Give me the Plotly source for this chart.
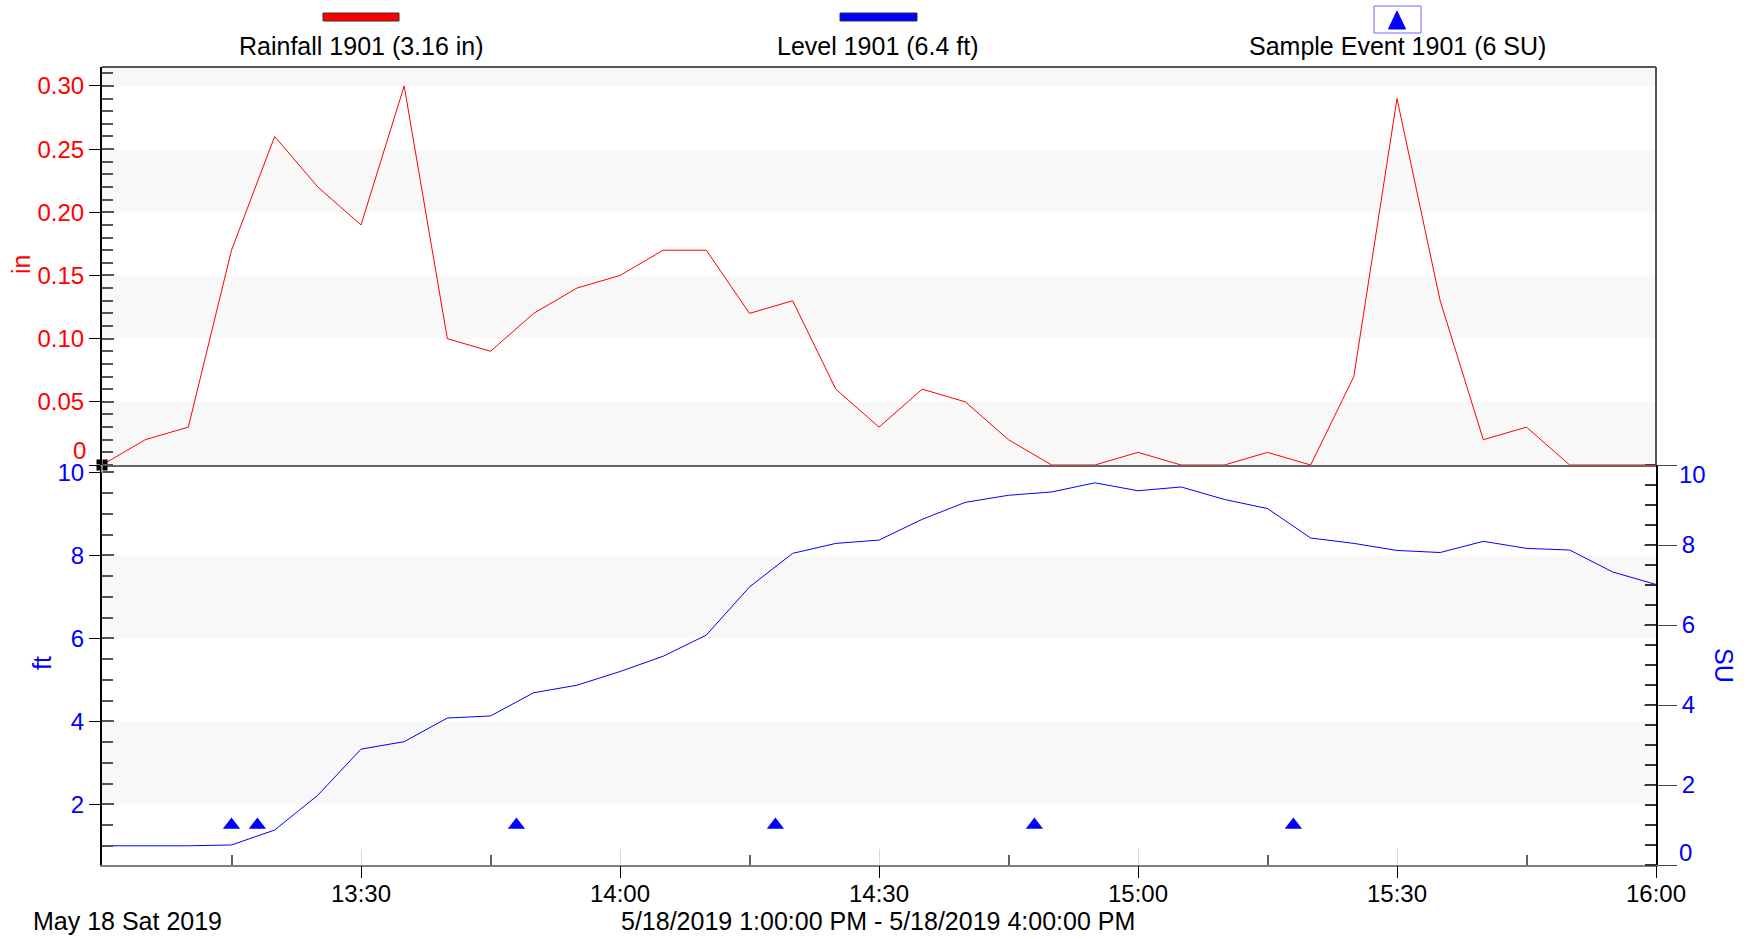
import pandas as pd
import plotly.graph_objects as go

# ---- data -------------------------------------------------------------
times = pd.date_range("2019-05-18 13:00", "2019-05-18 16:00", freq="5min")

rain_in = [0.00, 0.02, 0.03, 0.17, 0.26, 0.22, 0.19, 0.30, 0.10, 0.09,
           0.12, 0.14, 0.15, 0.17, 0.17, 0.12, 0.13, 0.06, 0.03, 0.06,
           0.05, 0.02, 0.00, 0.00, 0.01, 0.00, 0.00, 0.01, 0.00, 0.07,
           0.29, 0.13, 0.02, 0.03, 0.00, 0.00, 0.00]

level_ft = [1.00, 1.00, 1.00, 1.02, 1.38, 2.22, 3.33, 3.51, 4.08, 4.13,
            4.69, 4.87, 5.20, 5.57, 6.08, 7.24, 8.05, 8.29, 8.37, 8.87,
            9.28, 9.45, 9.53, 9.75, 9.56, 9.65, 9.35, 9.13, 8.42, 8.29,
            8.12, 8.07, 8.34, 8.17, 8.13, 7.60, 7.30]

event_times = ["2019-05-18 13:15", "2019-05-18 13:18", "2019-05-18 13:48",
               "2019-05-18 14:18", "2019-05-18 14:48", "2019-05-18 15:18"]
event_su = [1, 1, 1, 1, 1, 1]

x_major = ["2019-05-18 13:30", "2019-05-18 14:00", "2019-05-18 14:30",
           "2019-05-18 15:00", "2019-05-18 15:30", "2019-05-18 16:00"]
x_major_text = ["13:30", "14:00", "14:30", "15:00", "15:30", "16:00"]
x_minor = ["2019-05-18 13:15", "2019-05-18 13:45", "2019-05-18 14:15",
           "2019-05-18 14:45", "2019-05-18 15:15", "2019-05-18 15:45"]

rain_ticks = [0.0, 0.05, 0.10, 0.15, 0.20, 0.25, 0.30]
rain_tick_text = ["", "0.05", "0.10", "0.15", "0.20", "0.25", "0.30"]
ft_ticks = [2, 4, 6, 8, 10]
ft_tick_text = ["2", "4", "6", "8", "10"]
su_ticks = [0, 2, 4, 6, 8, 10]
su_tick_text = ["", "2", "4", "6", "8", ""]

rain_bands = [(0.30, 0.315), (0.20, 0.25), (0.10, 0.15), (0.0, 0.05)]
level_bands = [(6, 8), (2, 4)]

rain_range = [0, 0.315]
ft_range = [0.537, 10.18]
su_range = [0, 10]
t_range = ["2019-05-18 13:00", "2019-05-18 16:00"]

legend_text = ["Rainfall 1901 (3.16 in)", "Level 1901 (6.4 ft)",
               "Sample Event 1901 (6 SU)"]

# ---- page geometry ----------------------------------------------------
W, H = 1754, 939
L, R, T, B = 102, 1656, 67, 865
MID = 465
split = (B - MID) / (B - T)

RED = "#ff0000"
BLUE = "#0000ff"
FONT = "Arial, 'Liberation Sans', sans-serif"


def px(x):
    return (x - L) / (R - L)


def py(y):
    return (B - y) / (B - T)


fig = go.Figure()

# rainfall (upper panel)
fig.add_trace(go.Scatter(x=times, y=rain_in, mode="lines",
                         line=dict(color=RED, width=1),
                         xaxis="x2", yaxis="y", cliponaxis=False,
                         showlegend=False, hoverinfo="skip"))
# selection handle at the first rainfall point
fig.add_trace(go.Scatter(x=[times[0]], y=[rain_in[0]], mode="markers",
                         marker=dict(symbol="square", size=11, color="black"),
                         xaxis="x2", yaxis="y", cliponaxis=False,
                         showlegend=False, hoverinfo="skip"))
fig.add_trace(go.Scatter(x=[times[0]], y=[rain_in[0]], mode="markers",
                         marker=dict(symbol="cross-thin", size=11,
                                     line=dict(color="white", width=1)),
                         xaxis="x2", yaxis="y", cliponaxis=False,
                         showlegend=False, hoverinfo="skip"))

# level (lower panel, left axis)
fig.add_trace(go.Scatter(x=times, y=level_ft, mode="lines",
                         line=dict(color=BLUE, width=1),
                         xaxis="x", yaxis="y2", showlegend=False,
                         hoverinfo="skip"))

# sample events (lower panel, right axis)
fig.add_trace(go.Scatter(x=event_times, y=event_su, mode="markers",
                         marker=dict(symbol="triangle-up", size=15, color=BLUE),
                         xaxis="x", yaxis="y3", showlegend=False,
                         hoverinfo="skip"))

# empty traces so the overlay tick axes are drawn
for xa, ya in [("x3", "y2"), ("x4", "y2"), ("x2", "y4"), ("x", "y5"),
               ("x", "y6")]:
    fig.add_trace(go.Scatter(x=[], y=[], xaxis=xa, yaxis=ya,
                             showlegend=False, hoverinfo="skip"))

tick_font_black = dict(family=FONT, size=24, color="black")

fig.update_layout(
    width=W, height=H,
    margin=dict(l=L, r=W - R, t=T, b=H - B),
    paper_bgcolor="white", plot_bgcolor="white",
    font=dict(family=FONT, size=24, color="black"),
    showlegend=False,
    xaxis=dict(
        type="date", range=t_range, domain=[0, 1], anchor="y2",
        tickmode="array", tickvals=x_major, ticktext=x_major_text,
        ticks="outside", ticklen=6, tickcolor="black", tickwidth=1,
        tickfont=tick_font_black,
        minor=dict(tickmode="array", tickvals=x_minor, ticks="inside",
                   ticklen=10, tickcolor="#606060", tickwidth=2,
                   showgrid=False),
        showline=True, linecolor="#808080", linewidth=2,
        showgrid=False, zeroline=False,
    ),
    xaxis2=dict(
        type="date", range=t_range, domain=[0, 1], anchor="y",
        matches="x", showticklabels=False, ticks="",
        showline=True, linecolor="#666666", linewidth=2,
        showgrid=False, zeroline=False, layer="below traces",
    ),
    xaxis3=dict(
        type="date", range=t_range, overlaying="x", anchor="y2",
        tickmode="array", tickvals=x_major, ticks="inside", ticklen=16,
        tickcolor="#d8d8d8", showticklabels=False, showline=False,
        showgrid=False, zeroline=False,
    ),
    xaxis4=dict(
        type="date", range=t_range, overlaying="x", anchor="y2",
        tickmode="array", tickvals=x_major, ticks="outside", ticklen=12,
        tickcolor="black", tickwidth=1, showticklabels=False,
        showline=False, showgrid=False, zeroline=False,
    ),
    yaxis=dict(
        domain=[split, 1], range=rain_range, anchor="x2",
        tickmode="array", tickvals=rain_ticks, ticktext=rain_tick_text,
        ticks="outside", ticklen=11, tickcolor="black",
        tickfont=dict(family=FONT, size=24, color=RED),
        minor=dict(tickmode="linear", tick0=0, dtick=0.01, ticks="inside",
                   ticklen=11, tickcolor="#555555", tickwidth=2,
                   showgrid=False),
        showline=True, linecolor="black", linewidth=2,
        showgrid=False, zeroline=False,
    ),
    yaxis4=dict(
        range=rain_range, overlaying="y", anchor="x2", side="left",
        tickmode="array", tickvals=rain_ticks, ticks="inside", ticklen=12,
        tickcolor="#555555", tickwidth=2, showticklabels=False,
        showline=False, showgrid=False, zeroline=False,
    ),
    yaxis2=dict(
        domain=[0, split], range=ft_range, anchor="x",
        tickmode="array", tickvals=ft_ticks, ticktext=ft_tick_text,
        ticks="outside", ticklen=11, tickcolor="black",
        tickfont=dict(family=FONT, size=24, color=BLUE),
        minor=dict(tickmode="linear", tick0=0, dtick=0.5, ticks="inside",
                   ticklen=11, tickcolor="#555555", tickwidth=2,
                   showgrid=False),
        showline=True, linecolor="black", linewidth=2,
        showgrid=False, zeroline=False,
    ),
    yaxis5=dict(
        range=ft_range, overlaying="y2", anchor="x", side="left",
        tickmode="array", tickvals=ft_ticks, ticks="inside", ticklen=12,
        tickcolor="#555555", tickwidth=2, showticklabels=False,
        showline=False, showgrid=False, zeroline=False,
    ),
    yaxis3=dict(
        range=su_range, overlaying="y2", anchor="x", side="right",
        tickmode="array", tickvals=su_ticks, ticktext=su_tick_text,
        ticks="outside", ticklen=19, tickcolor="#444444", tickwidth=1,
        tickfont=dict(family=FONT, size=24, color=BLUE),
        minor=dict(tickmode="linear", tick0=0, dtick=0.5, ticks="inside",
                   ticklen=11, tickcolor="#333333", tickwidth=2,
                   showgrid=False),
        showline=True, linecolor="black", linewidth=2,
        showgrid=False, zeroline=False,
    ),
    yaxis6=dict(
        range=su_range, overlaying="y2", anchor="x", side="right",
        tickmode="array", tickvals=su_ticks, ticks="inside", ticklen=12,
        tickcolor="#444444", tickwidth=1, showticklabels=False,
        showline=False, showgrid=False, zeroline=False,
    ),
)

shapes = []
# alternating background bands
for y0, y1 in rain_bands:
    shapes.append(dict(type="rect", xref="paper", yref="y", x0=0, x1=1,
                       y0=y0, y1=y1, fillcolor="#f8f8f8", line_width=0,
                       layer="below"))
for y0, y1 in level_bands:
    shapes.append(dict(type="rect", xref="paper", yref="y2", x0=0, x1=1,
                       y0=y0, y1=y1, fillcolor="#f8f8f8", line_width=0,
                       layer="below"))
# frame of the upper panel
shapes.append(dict(type="line", xref="paper", yref="paper", x0=0, x1=1,
                   y0=1, y1=1, line=dict(color="#555555", width=2)))
shapes.append(dict(type="line", xref="paper", yref="paper", x0=1, x1=1,
                   y0=split, y1=1, line=dict(color="#555555", width=2)))
# legend swatches
shapes.append(dict(type="rect", xref="paper", yref="paper",
                   x0=px(323), x1=px(399), y0=py(21), y1=py(13),
                   fillcolor=RED, line=dict(color="#333333", width=1)))
shapes.append(dict(type="rect", xref="paper", yref="paper",
                   x0=px(840), x1=px(917), y0=py(21), y1=py(13),
                   fillcolor=BLUE, line=dict(color="#333333", width=1)))
shapes.append(dict(type="rect", xref="paper", yref="paper",
                   x0=px(1374), x1=px(1421), y0=py(33), y1=py(6),
                   fillcolor="rgba(0,0,0,0)",
                   line=dict(color="#6a6aff", width=1)))
shapes.append(dict(type="path", xref="paper", yref="paper",
                   path=(f"M {px(1397)},{py(11)} L {px(1405.5)},{py(29)} "
                         f"L {px(1388.5)},{py(29)} Z"),
                   fillcolor=BLUE, line=dict(color=BLUE, width=1)))
fig.update_layout(shapes=shapes)

ann = []
for text, cx in zip(legend_text, [361, 878, 1397]):
    ann.append(dict(text=text, xref="paper", yref="paper", x=px(cx),
                    y=py(46.5), xanchor="center", yanchor="middle",
                    showarrow=False,
                    font=dict(family=FONT, size=25, color="black")))
# axis titles
ann.append(dict(text="in", xref="paper", yref="paper", x=px(21), y=py(265),
                textangle=-90, showarrow=False, xanchor="center",
                yanchor="middle", font=dict(family=FONT, size=25, color=RED)))
ann.append(dict(text="ft", xref="paper", yref="paper", x=px(42), y=py(663),
                textangle=-90, showarrow=False, xanchor="center",
                yanchor="middle", font=dict(family=FONT, size=25, color=BLUE)))
ann.append(dict(text="SU", xref="paper", yref="paper", x=px(1724),
                y=py(665), textangle=90, showarrow=False, xanchor="center",
                yanchor="middle", font=dict(family=FONT, size=25, color=BLUE)))
# end labels nudged inside the panels
ann.append(dict(text="0", xref="paper", yref="y", x=0, y=rain_ticks[0],
                xanchor="right", yanchor="middle", xshift=-14, yshift=15,
                showarrow=False, font=dict(family=FONT, size=24, color=RED)))
ann.append(dict(text="10", xref="paper", yref="y3", x=1, y=su_ticks[-1],
                xanchor="left", yanchor="middle", xshift=21, yshift=-9,
                showarrow=False, font=dict(family=FONT, size=24, color=BLUE)))
ann.append(dict(text="0", xref="paper", yref="y3", x=1, y=su_ticks[0],
                xanchor="left", yanchor="middle", xshift=21, yshift=13,
                showarrow=False, font=dict(family=FONT, size=24, color=BLUE)))
# date captions
ann.append(dict(text="May 18 Sat 2019", xref="paper", yref="paper",
                x=px(31), y=py(921), xanchor="left", yanchor="middle",
                showarrow=False, font=dict(family=FONT, size=25, color="black")))
ann.append(dict(text="5/18/2019 1:00:00 PM - 5/18/2019 4:00:00 PM",
                xref="paper", yref="paper", x=px(878), y=py(921),
                xanchor="center", yanchor="middle", showarrow=False,
                font=dict(family=FONT, size=25, color="black")))
fig.update_layout(annotations=ann)

fig.write_html("out.html")
